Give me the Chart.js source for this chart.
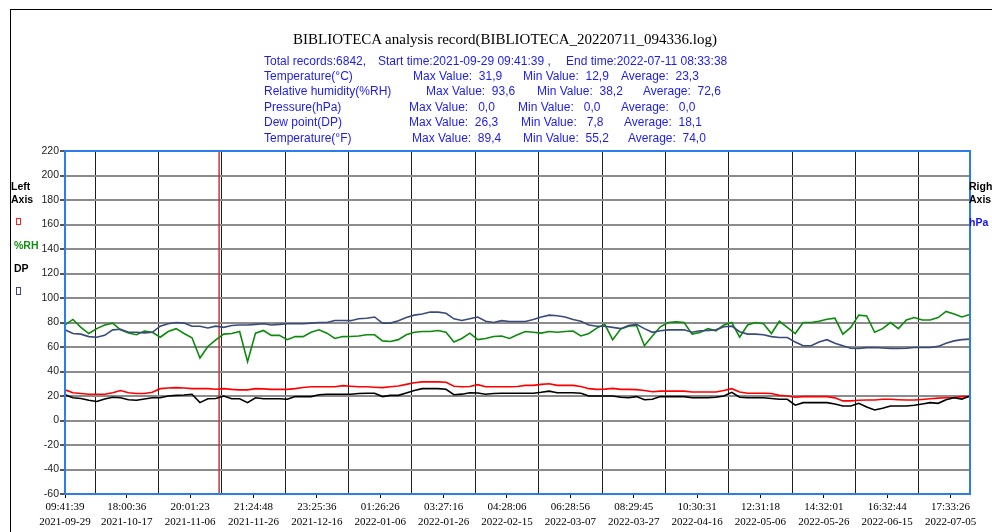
<!DOCTYPE html>
<html lang="en">
<head>
<meta charset="UTF-8">
<title>BIBLIOTECA analysis record</title>
<script src="https://cdn.jsdelivr.net/npm/chart.js"></script>
<style>
    html, body { margin: 0; padding: 0; background: #fff; overflow: hidden; }
    #wrap { position: relative; width: 992px; height: 532px; overflow: hidden; }
    #frame { position: absolute; left: 10px; top: 9px; width: 1000px; height: 600px;
             border-left: 1px solid #000; border-top: 1px solid #000; }
    canvas { position: absolute; left: 0; top: 0; }
    .t { position: absolute; white-space: pre; }
    #title { left: 0; width: 1010px; text-align: center; top: 31px; line-height: 18px;
             font: 15px 'Liberation Serif', 'Times New Roman', serif; color: #000; }
    .info { font: 12px 'Liberation Sans', Arial, sans-serif; line-height: 14px; color: #1c1cf0; }
    .leg { font: bold 10.5px 'Liberation Sans', Arial, sans-serif; line-height: 12px; }
    .box { position: absolute; width: 3px; height: 5px; border: 1px solid; }
</style>
</head>
<body>
<div id="wrap">
    <div id="frame"></div>
    <canvas id="recordChart" width="992" height="532"></canvas>

    <div class="t" id="title">BIBLIOTECA analysis record(BIBLIOTECA_20220711_094336.log)</div>

    <div class="t info" style="left:264px;top:54px">Total records:6842,</div>
    <div class="t info" style="left:378px;top:54px">Start time:2021-09-29 09:41:39 ,</div>
    <div class="t info" style="left:566px;top:54px">End time:2022-07-11 08:33:38</div>

    <div class="t info" style="left:264px;top:69px">Temperature(°C)</div>
    <div class="t info" style="left:413px;top:69px">Max Value:  31,9</div>
    <div class="t info" style="left:523px;top:69px">Min Value:  12,9</div>
    <div class="t info" style="left:621px;top:69px">Average:  23,3</div>

    <div class="t info" style="left:264px;top:84px">Relative humidity(%RH)</div>
    <div class="t info" style="left:426px;top:84px">Max Value:  93,6</div>
    <div class="t info" style="left:537px;top:84px">Min Value:  38,2</div>
    <div class="t info" style="left:643px;top:84px">Average:  72,6</div>

    <div class="t info" style="left:264px;top:100px">Pressure(hPa)</div>
    <div class="t info" style="left:409px;top:100px">Max Value:   0,0</div>
    <div class="t info" style="left:518px;top:100px">Min Value:   0,0</div>
    <div class="t info" style="left:621px;top:100px">Average:   0,0</div>

    <div class="t info" style="left:264px;top:115px">Dew point(DP)</div>
    <div class="t info" style="left:409px;top:115px">Max Value:  26,3</div>
    <div class="t info" style="left:521px;top:115px">Min Value:   7,8</div>
    <div class="t info" style="left:624px;top:115px">Average:  18,1</div>

    <div class="t info" style="left:264px;top:131px">Temperature(°F)</div>
    <div class="t info" style="left:412px;top:131px">Max Value:  89,4</div>
    <div class="t info" style="left:523px;top:131px">Min Value:  55,2</div>
    <div class="t info" style="left:628px;top:131px">Average:  74,0</div>

    <div class="t leg" style="left:11px;top:180px;color:#000">Left</div>
    <div class="t leg" style="left:11px;top:193px;color:#000">Axis</div>
    <div class="box" style="left:16px;top:218px;border-color:#ff2020"></div>
    <div class="t leg" style="left:14px;top:239px;color:#109010">%RH</div>
    <div class="t leg" style="left:14px;top:262px;color:#000">DP</div>
    <div class="box" style="left:16px;top:287px;height:6px;border-color:#3a4a7a"></div>

    <div class="t leg" style="left:969px;top:180px;color:#000">Right</div>
    <div class="t leg" style="left:969px;top:193px;color:#000">Axis</div>
    <div class="t leg" style="left:969px;top:216px;color:#1010ee">hPa</div>
</div>

<script>
    // record count and sampling step (one value every STEP records)
    const RECORDS = 6842;
    const STEP = 60;

    const tempC = [
        25, 22.7, 22, 21.4, 21.4, 21.4, 22.7, 24.5, 22.7, 22,
        22, 23, 26, 26.5, 26.8, 26.5, 26, 26, 26, 25.5,
        26, 25.4, 25, 25, 26, 25.8, 25.4, 25.4, 25.4, 26,
        27, 27.5, 27.6, 27.6, 27.6, 28.5, 28, 27.6, 27.6, 27.2,
        26.8, 27.5, 28.2, 29.5, 30.8, 31.5, 31.5, 31.5, 31.2, 28,
        27.6, 27.8, 29.3, 27.6, 27.6, 27.6, 27.6, 27.8, 28.7, 28.7,
        29.5, 30, 28.7, 28.7, 28.7, 27.8, 26, 25.4, 25.6, 26.2,
        25.4, 25.4, 25.2, 24.5, 23.5, 24, 24, 24, 24, 23.3,
        23.3, 23.3, 23.3, 24.5, 26, 23.3, 22.2, 22.2, 22.2, 22,
        20.5, 20, 19, 19.5, 19.5, 19.5, 19.5, 18.5, 16, 16,
        16.5, 16.7, 16.7, 17.3, 17.3, 17, 16.7, 16.7, 17.2, 17.8,
        18.3, 18.6, 18.8, 19.5, 19.5
    ];

    const humidity = [
        78, 82.5, 76, 71, 75, 78, 79.5, 74, 71.5, 70,
        73, 72, 68, 72.6, 75, 71, 67.5, 51, 60.4, 65.8,
        70.5, 71, 72.6, 48, 71.3, 73.5, 69.5, 69.5, 66, 68.5,
        68.5, 72, 74, 71.3, 67, 68.5, 68.6, 69, 70, 70,
        65, 64.5, 66, 70, 72, 72.6, 72.6, 73.5, 72, 64,
        67, 71.3, 66, 67, 68.6, 69, 67, 70, 72.6, 72,
        71.3, 72.6, 72, 72.6, 73, 69, 71, 75.4, 78.5, 66,
        74.6, 77, 77.5, 61, 69, 76.5, 80, 80.5, 80, 70.5,
        71.8, 75, 73.2, 78, 80, 68, 78, 80, 79, 71,
        81, 76, 71, 80, 80, 81, 82.7, 83.5, 70.5, 76,
        86, 85.4, 72, 75, 80, 75, 82, 84, 82, 82,
        84, 89, 87, 84.5, 86.5
    ];

    const dewPoint = [
        21, 18.6, 18, 16.5, 15.5, 17.5, 19, 18.6, 17, 16.5,
        17.5, 18.6, 18.6, 20, 20.5, 20.8, 21.4, 14.6, 17.8, 18,
        20, 17.8, 17.8, 14.6, 18.6, 17.8, 17.8, 17.8, 17.3, 19.5,
        19.5, 19.5, 21, 21.4, 21.4, 21.4, 21.4, 22, 22.2, 22.2,
        19.5, 20.5, 20.5, 22.5, 24.5, 26, 26, 26, 25.5, 21,
        21.5, 22.7, 22.5, 21.4, 22, 22.2, 22.2, 22.2, 22.2, 22.2,
        23, 24, 22.7, 22.7, 22.7, 22.2, 20, 20, 20, 20,
        19, 18.6, 19.5, 17, 17.3, 19.5, 19.5, 19.5, 19.5, 18.6,
        18.6, 18.6, 19, 20, 23, 19, 18.6, 18.6, 18.6, 18,
        17.3, 17.3, 12.5, 14.6, 14.6, 14.6, 14.6, 13.5, 11.8, 11.8,
        14, 11, 8.6, 10, 11.8, 11.8, 11.8, 12.5, 13.5, 14.6,
        14, 17, 18.6, 17.5, 20
    ];

    const tempF = [
        74, 71, 70.5, 68.5, 68, 69.5, 74, 74.5, 72, 72,
        71.5, 72, 77, 79, 80, 79.5, 77, 77, 75.5, 77,
        76, 77.5, 78, 78, 78.5, 79, 78, 78.5, 79, 79,
        79, 79.5, 80, 80, 81.6, 81.6, 81.5, 83, 83.5, 84.5,
        79.5, 79.5, 81.5, 84, 86, 87, 88.5, 88.5, 87.5, 83,
        81.6, 83, 84.5, 81, 80, 81.5, 80.8, 80.8, 80.8, 82.5,
        84.5, 86, 85.5, 84.5, 82.5, 81, 78, 77, 77, 76,
        75, 77.5, 78.5, 75, 72, 73.2, 74, 74, 74, 72,
        73.2, 73.5, 74, 76.5, 77, 72.5, 70.5, 70.5, 70, 68.5,
        67.8, 67.8, 64, 61, 61, 64, 66, 63, 61, 59,
        58.8, 59.5, 59.6, 59.2, 58.8, 58.8, 59, 59.6, 59.6, 59.6,
        60.5, 63, 65, 66, 66.4
    ];

    // x axis labels sit at these record numbers
    const tickRecords = [0, 467, 946, 1425, 1904, 2383, 2862, 3341, 3820, 4299, 4778, 5257, 5736, 6215, 6694];
    const tickTimes = ['09:41:39', '18:00:36', '20:01:23', '21:24:48', '23:25:36', '01:26:26', '03:27:16', '04:28:06',
                       '06:28:56', '08:29:45', '10:30:31', '12:31:18', '14:32:01', '16:32:44', '17:33:26'];
    const tickDates = ['2021-09-29', '2021-10-17', '2021-11-06', '2021-11-26', '2021-12-16', '2022-01-06', '2022-01-26', '2022-02-15',
                       '2022-03-07', '2022-03-27', '2022-04-16', '2022-05-06', '2022-05-26', '2022-06-15', '2022-07-05'];

    // left axis range
    const Y_MIN = -60, Y_MAX = 220, Y_STEP = 20;

    // cursor line
    const markerRecord = 1165;

    // vertical grid lines run half way between labels
    const gridRecords = tickRecords.slice(1).map((r, i) => (r + tickRecords[i]) / 2);

    const toPoints = arr => arr.map((v, i) => ({ x: i * STEP, y: v }));

    const BLUE = '#2b7de9';

    function line(label, data, color) {
        return {
            label: label,
            data: toPoints(data),
            borderColor: color,
            borderWidth: 1.6,
            pointRadius: 0,
            tension: 0,
            fill: false,
            xAxisID: 'x',
            yAxisID: 'y'
        };
    }

    const ctx = document.getElementById('recordChart').getContext('2d');
    new Chart(ctx, {
        type: 'line',
        data: {
            datasets: [
                line('Temperature(°F)', tempF, '#3a4a7a'),
                line('Dew point(DP)', dewPoint, '#000000'),
                line('Relative humidity(%RH)', humidity, '#0c8a0c'),
                line('Temperature(°C)', tempC, '#ff0000'),
                {
                    label: 'cursor',
                    data: [{ x: markerRecord, y: Y_MIN }, { x: markerRecord, y: Y_MAX }],
                    borderColor: '#c03a3a',
                    borderWidth: 1.5,
                    pointRadius: 0,
                    xAxisID: 'x',
                    yAxisID: 'y'
                }
            ]
        },
        options: {
            responsive: false,
            animation: false,
            layout: { padding: 0 },
            plugins: {
                legend: { display: false },
                tooltip: { enabled: false }
            },
            scales: {
                x: {
                    type: 'linear',
                    position: 'bottom',
                    min: 0,
                    max: RECORDS - 1,
                    afterBuildTicks: s => { s.ticks = tickRecords.map(v => ({ value: v })); },
                    afterFit: s => { s.height = 38; },
                    grid: { drawOnChartArea: false, tickLength: 4, tickColor: '#000', lineWidth: 1 },
                    border: { color: BLUE, width: 2, z: 1 },
                    ticks: {
                        autoSkip: false,
                        maxRotation: 0,
                        padding: 1,
                        color: '#000',
                        font: { family: "'Liberation Serif', 'Times New Roman', serif", size: 11, lineHeight: 1.4 },
                        callback: (v, i) => [tickTimes[i], tickDates[i]]
                    }
                },
                xg: {
                    type: 'linear',
                    position: 'top',
                    min: 0,
                    max: RECORDS - 1,
                    afterBuildTicks: s => { s.ticks = gridRecords.map(v => ({ value: v })); },
                    afterFit: s => { s.height = 151; },
                    grid: { color: '#1e1e1e', lineWidth: 1, drawTicks: false },
                    border: { color: BLUE, width: 2, z: 1 },
                    ticks: { display: false }
                },
                y: {
                    position: 'left',
                    min: Y_MIN,
                    max: Y_MAX,
                    afterFit: s => { s.width = 65; },
                    grid: { color: '#8c8c8c', lineWidth: 2, tickLength: 5, tickColor: '#555' },
                    border: { color: BLUE, width: 2, z: 1 },
                    ticks: {
                        stepSize: Y_STEP,
                        padding: 1,
                        color: '#222',
                        font: { family: "'Liberation Sans', Arial, sans-serif", size: 10.5 }
                    }
                },
                yr: {
                    position: 'right',
                    min: 0,
                    max: 1,
                    afterFit: s => { s.width = 22; },
                    grid: { drawOnChartArea: false, drawTicks: false },
                    border: { color: BLUE, width: 2, z: 1 },
                    ticks: { display: false }
                }
            }
        }
    });
</script>
</body>
</html>
